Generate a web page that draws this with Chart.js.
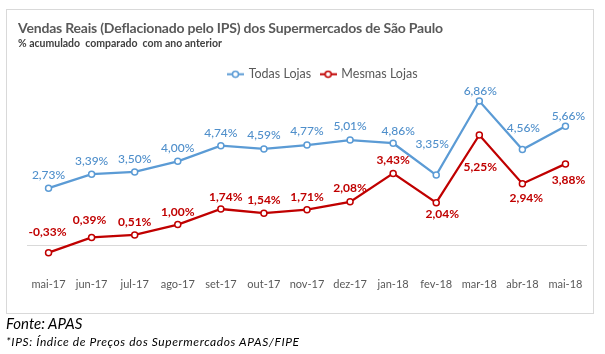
<!DOCTYPE html>
<html>
<head>
<meta charset="utf-8">
<script src="https://cdn.jsdelivr.net/npm/chart.js@4.4.1/dist/chart.umd.min.js"></script>
<style>
  body { margin: 0; background: #fff; font-family: Lato, "Open Sans", sans-serif; }
  #wrap { position: relative; width: 605px; height: 354px; overflow: hidden; }
  #box { position: absolute; left: 6px; top: 9px; width: 586px; height: 303px; border: 1px solid #d9d9d9; }
  #grafico { position: absolute; left: 0; top: 0; }
  .titulo { position: absolute; left: 18px; top: 19px; font-size: 14px; font-weight: 700; color: #595959; white-space: nowrap; letter-spacing: -0.2px; }
  .subtitulo { position: absolute; left: 18px; top: 37px; font-size: 10.5px; font-weight: 700; color: #404040; white-space: pre; }
  .fonte { position: absolute; left: 6px; top: 314px; font-size: 15px; font-style: italic; color: #000; }
  .nota { position: absolute; left: 6px; top: 334px; font-size: 12px; font-style: italic; color: #000; white-space: nowrap; letter-spacing: 0.6px; }
</style>
</head>
<body>
<div id="wrap">
  <div id="box"></div>
  <canvas id="grafico" width="605" height="354"></canvas>
  <div class="titulo">Vendas Reais (Deflacionado pelo IPS) dos Supermercados de São Paulo</div>
  <div class="subtitulo">% acumulado  comparado  com ano anterior</div>
  <div class="fonte">Fonte: APAS</div>
  <div class="nota">*IPS: Índice de Preços dos Supermercados APAS/FIPE</div>
</div>
<script>
// dados
const meses = ['mai-17', 'jun-17', 'jul-17', 'ago-17', 'set-17', 'out-17', 'nov-17', 'dez-17', 'jan-18', 'fev-18', 'mar-18', 'abr-18', 'mai-18'];
const todasLojas = [2.73, 3.39, 3.50, 4.00, 4.74, 4.59, 4.77, 5.01, 4.86, 3.35, 6.86, 4.56, 5.66];
const mesmasLojas = [-0.33, 0.39, 0.51, 1.00, 1.74, 1.54, 1.71, 2.08, 3.43, 2.04, 5.25, 2.94, 3.88];

const AZUL = '#5B9BD5';
const VERMELHO = '#C00000';

const formatPct = (v) => v.toFixed(2).replace('.', ',') + '%';

// marcador da legenda: linha com bolinha (estilo Excel)
function criarMarcador(cor) {
  const c = document.createElement('canvas');
  c.width = 17;
  c.height = 9;
  const g = c.getContext('2d');
  g.strokeStyle = cor;
  g.lineWidth = 2;
  g.beginPath();
  g.moveTo(0, 4.5);
  g.lineTo(17, 4.5);
  g.stroke();
  g.beginPath();
  g.arc(8.5, 4.5, 3, 0, Math.PI * 2);
  g.fillStyle = '#fff';
  g.fill();
  g.lineWidth = 1.5;
  g.stroke();
  return c;
}
const marcadores = [criarMarcador(AZUL), criarMarcador(VERMELHO)];

// rótulos de dados
const rotulosPlugin = {
  id: 'rotulos',
  afterDatasetsDraw(chart, args, opts) {
    const ctx = chart.ctx;
    chart.data.datasets.forEach((ds, i) => {
      const meta = chart.getDatasetMeta(i);
      const cfg = opts.series[i];
      ctx.save();
      ctx.font = cfg.font;
      ctx.fillStyle = cfg.color;
      ctx.textAlign = 'center';
      ctx.textBaseline = 'middle';
      meta.data.forEach((pt, j) => {
        ctx.fillText(formatPct(ds.data[j]), pt.x + cfg.dx[j], pt.y + cfg.dy[j]);
      });
      ctx.restore();
    });
  }
};

// desloca a legenda um pouco para a direita, como no original
const legendaPlugin = {
  id: 'legendaShift',
  afterLayout(chart) {
    if (chart.legend) {
      chart.legend.left += 16;
      chart.legend.right += 16;
    }
  }
};

new Chart(document.getElementById('grafico'), {
  type: 'line',
  data: {
    labels: meses,
    datasets: [
      {
        label: 'Todas Lojas',
        data: todasLojas,
        borderColor: AZUL,
        backgroundColor: AZUL,
        borderWidth: 2.25,
        pointRadius: 3,
        pointBorderWidth: 1.5,
        pointBackgroundColor: '#fff',
        pointBorderColor: AZUL,
        tension: 0
      },
      {
        label: 'Mesmas Lojas',
        data: mesmasLojas,
        borderColor: VERMELHO,
        backgroundColor: VERMELHO,
        borderWidth: 2.25,
        pointRadius: 3,
        pointBorderWidth: 1.5,
        pointBackgroundColor: '#fff',
        pointBorderColor: VERMELHO,
        tension: 0
      }
    ]
  },
  options: {
    responsive: false,
    animation: false,
    layout: { padding: { left: 27, right: 18, top: 58, bottom: 60 } },
    plugins: {
      tooltip: { enabled: false },
      legend: {
        position: 'top',
        labels: {
          usePointStyle: true,
          pointStyleWidth: 14,
          color: '#595959',
          padding: 10,
          font: { family: 'Lato', size: 12.5 },
          generateLabels: (chart) => Chart.defaults.plugins.legend.labels.generateLabels(chart)
            .map((item, i) => ({ ...item, pointStyle: marcadores[i] }))
        }
      },
      rotulos: {
        series: [
          {
            font: '500 12px Lato',
            color: '#4F8FCB',
            dx: [0, 0, 0, 0, 0, 0, 0, 0, 5, -4, 1, 1, 3],
            dy: [-13, -13, -13, -13, -13, -14, -14, -14, -12, -31, -10, -21, -10]
          },
          {
            font: 'bold 12px Lato',
            color: VERMELHO,
            dx: [-1, -2, 0, 0, 5, 0, 0, 0, 0, 6, 1, 4, 3],
            dy: [-21, -17, -13, -12, -12, -13, -13, -14, -13, 11, 32, 14, 16]
          }
        ]
      }
    },
    scales: {
      x: {
        offset: true,
        grid: { display: false },
        border: { display: false },
        ticks: { color: '#595959', font: { family: 'Lato', size: 11 }, padding: 3 }
      },
      y: {
        min: -1,
        max: 7.36,
        ticks: { display: false, stepSize: 1 },
        border: { display: false },
        grid: {
          drawTicks: false,
          color: (c) => (c.tick && c.tick.value === 0 ? '#d9d9d9' : 'rgba(0,0,0,0)')
        }
      }
    }
  },
  plugins: [rotulosPlugin, legendaPlugin]
});
</script>
</body>
</html>
